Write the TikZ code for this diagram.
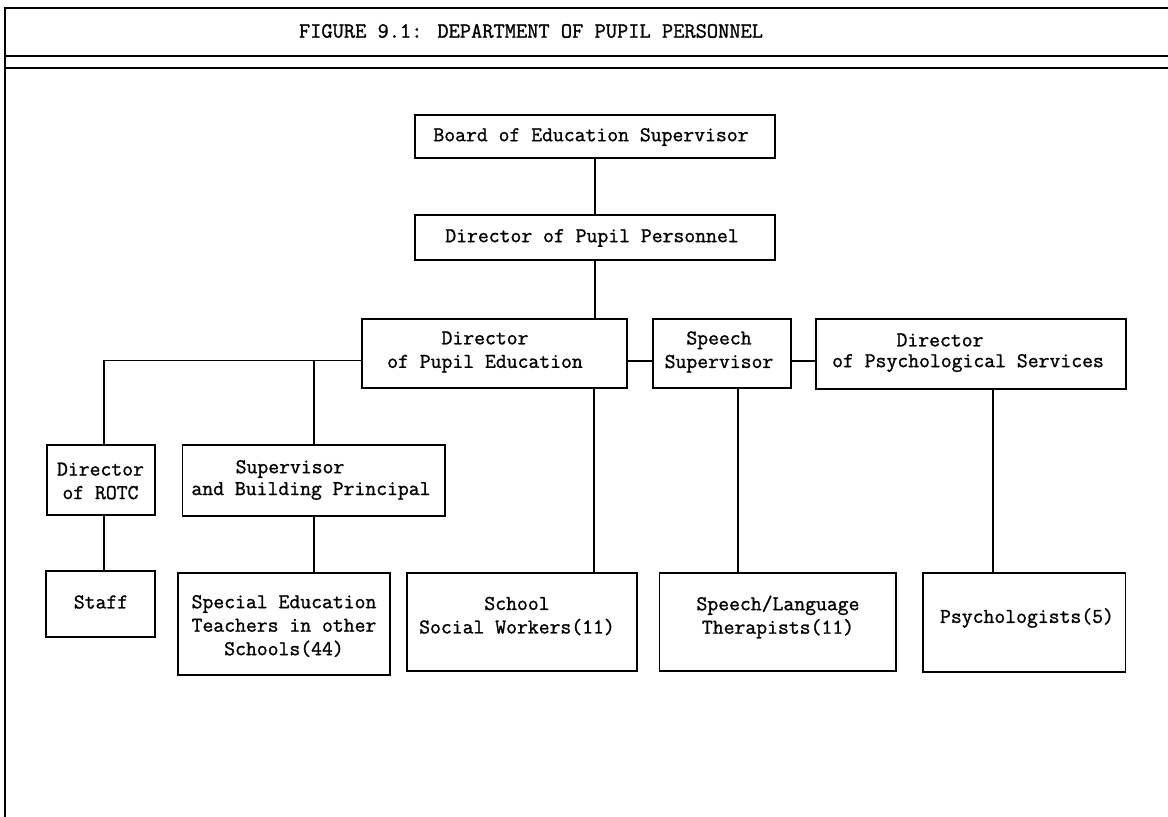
\documentclass[tikz,border=0pt]{standalone}
\usepackage{fontspec}
\newfontfamily\tw{Latin Modern Mono}[FakeBold=1.2]
\begin{document}
\begin{tikzpicture}[x=1pt,y=-1pt,
  box/.style={draw=black,line width=1.8pt,rectangle,inner sep=0pt},
  txt/.style={inner sep=0pt,align=center,font=\tw\fontsize{21.1}{23.5}\selectfont},
  link/.style={line width=1.8pt},
  frame/.style={line width=2.2pt}]
\useasboundingbox (0,0) rectangle (1168,817);
% frame
\coordinate (fbl) at (5,817);
\coordinate (ftl) at (5,8);
\coordinate (ftr) at (1168,8);
\coordinate (fm1l) at (5,56);
\coordinate (fm1r) at (1168,56);
\coordinate (fm2l) at (5,68);
\coordinate (fm2r) at (1168,68);
\draw[frame] (fbl) -- (ftl) -- (ftr);
\draw[frame] (fm1l) -- (fm1r);
\draw[frame] (fm2l) -- (fm2r);
\node[txt,font=\tw\fontsize{21.8}{23}\selectfont] (title) at (531,31) {FIGURE 9.1: DEPARTMENT OF PUPIL PERSONNEL};
% boxes
\node[box,minimum width=360pt,minimum height=43pt] (board) at (595,136.5) {};
\node[txt] (boardt) at (591,137) {Board of Education Supervisor};
\node[box,minimum width=360pt,minimum height=45pt] (dpp) at (595,237.5) {};
\node[txt] (dppt) at (592,238) {Director of Pupil Personnel};
\node[box,minimum width=265pt,minimum height=69pt] (dpe) at (494.5,353.5) {};
\node[txt] (dpet) at (485,352) {Director\\of Pupil Education};
\node[box,minimum width=138pt,minimum height=69pt] (sp) at (722,353.5) {};
\node[txt] (spt) at (719,352) {Speech\\Supervisor};
\node[box,minimum width=310pt,minimum height=70pt] (dps) at (971,354) {};
\node[txt] (dpst1) at (940,340) {Director};
\node[txt] (dpst2) at (968,363) {of Psychological Services};
\node[box,minimum width=108pt,minimum height=70pt] (rotc) at (101,480) {};
\node[txt] (rotct) at (100.5,481) {Director\\of ROTC};
\node[box,minimum width=262.5pt,minimum height=71pt] (sbp) at (313.75,480.5) {};
\node[txt] (sbpt1) at (290,469) {Supervisor};
\node[txt] (sbpt2) at (311,491) {and Building Principal};
\node[box,minimum width=109pt,minimum height=66pt] (staff) at (100.5,604) {};
\node[txt] (stafft) at (101,602) {Staff};
\node[box,minimum width=212pt,minimum height=102pt] (sped) at (284,624) {};
\node[txt] (spedt) at (284,626) {Special Education\\Teachers in other\\Schools(44)};
\node[box,minimum width=229.5pt,minimum height=98pt] (ssw) at (522,622) {};
\node[txt] (sswt) at (517,616) {School\\Social Workers(11)};
\node[box,minimum width=236.5pt,minimum height=98pt] (sl) at (777.75,622) {};
\node[txt] (slt) at (778,617) {Speech/Language\\Therapists(11)};
\node[box,minimum width=202.5pt,minimum height=99pt] (psy) at (1024.25,622.5) {};
\node[txt] (psyt) at (1027,618) {Psychologists(5)};
% connectors
\draw[link] (board.south) -- (dpp.north);
\draw[link] (dpp.south) -- (dpp.south |- dpe.north);
\coordinate (dpel) at ([yshift=-7pt]dpe.west);
\coordinate (rotcx) at ([xshift=3pt]rotc.north);
\draw[link] (dpel) -| (rotcx);
\draw[link] (sbp.north) -- (sbp.north |- dpel);
\draw[link] ([xshift=3pt]rotc.south) -- ([xshift=3pt]rotc.south |- staff.north);
\draw[link] (sbp.south) -- (sbp.south |- sped.north);
\coordinate (dpeb) at ([xshift=99.5pt]dpe.south);
\draw[link] (dpeb) -- (dpeb |- ssw.north);
\draw[link] ([yshift=-7.5pt]dpe.east) -- ([yshift=-7.5pt]dpe.east -| sp.west);
\draw[link] ([yshift=-7.5pt]sp.east) -- ([yshift=-7.5pt]sp.east -| dps.west);
\coordinate (spb) at ([xshift=16pt]sp.south);
\draw[link] (spb) -- (spb |- sl.north);
\coordinate (dpsb) at ([xshift=22pt]dps.south);
\draw[link] (dpsb) -- (dpsb |- psy.north);
\end{tikzpicture}
\end{document}
